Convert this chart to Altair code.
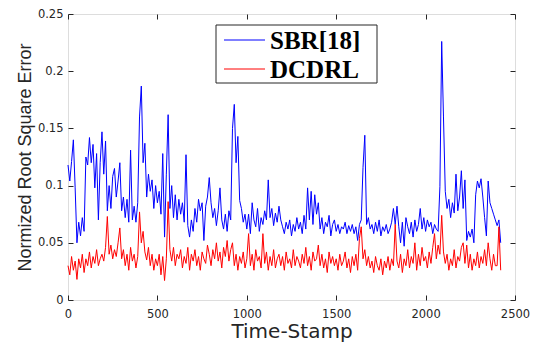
import altair as alt
import pandas as pd

# ---------------- data ----------------
sample_step = 10  # time-stamp spacing of the readings below

sbr = [
    0.118, 0.104, 0.121, 0.140, 0.098, 0.050, 0.068, 0.056, 0.072, 0.060,
    0.125, 0.118, 0.142, 0.120, 0.136, 0.098, 0.128, 0.070, 0.120, 0.147,
    0.110, 0.139, 0.078, 0.100, 0.080, 0.108, 0.115, 0.090, 0.104, 0.120,
    0.078, 0.090, 0.072, 0.088, 0.068, 0.131, 0.070, 0.082, 0.068, 0.085,
    0.160, 0.187, 0.120, 0.137, 0.090, 0.110, 0.095, 0.105, 0.080, 0.100,
    0.085, 0.095, 0.075, 0.128, 0.055, 0.110, 0.162, 0.080, 0.100, 0.072,
    0.092, 0.070, 0.088, 0.075, 0.085, 0.068, 0.127, 0.065, 0.055, 0.070,
    0.060, 0.080, 0.068, 0.088, 0.078, 0.085, 0.052, 0.082, 0.090, 0.107,
    0.085, 0.072, 0.080, 0.065, 0.078, 0.098, 0.070, 0.062, 0.075, 0.060,
    0.078, 0.070, 0.150, 0.171, 0.120, 0.143, 0.087, 0.080, 0.068, 0.075,
    0.062, 0.075, 0.058, 0.085, 0.070, 0.064, 0.080, 0.060, 0.072, 0.066,
    0.078, 0.070, 0.105, 0.072, 0.080, 0.065, 0.076, 0.068, 0.082, 0.070,
    0.064, 0.058, 0.068, 0.062, 0.070, 0.056, 0.066, 0.060, 0.072, 0.062,
    0.068, 0.058, 0.074, 0.062, 0.098, 0.070, 0.095, 0.066, 0.092, 0.075,
    0.085, 0.062, 0.072, 0.058, 0.068, 0.064, 0.074, 0.056, 0.066, 0.070,
    0.060, 0.066, 0.058, 0.064, 0.062, 0.068, 0.058, 0.065, 0.060, 0.066,
    0.058, 0.064, 0.052, 0.066, 0.070, 0.116, 0.144, 0.066, 0.072, 0.062,
    0.066, 0.058, 0.068, 0.060, 0.070, 0.056, 0.064, 0.060, 0.066, 0.058,
    0.062, 0.068, 0.080, 0.066, 0.082, 0.064, 0.050, 0.068, 0.047, 0.072,
    0.064, 0.058, 0.068, 0.055, 0.070, 0.060, 0.066, 0.080, 0.062, 0.072,
    0.060, 0.070, 0.064, 0.068, 0.058, 0.066, 0.062, 0.060, 0.099, 0.226,
    0.160, 0.095, 0.080, 0.088, 0.072, 0.085, 0.076, 0.110, 0.078, 0.090,
    0.113, 0.080, 0.105, 0.052, 0.060, 0.055, 0.062, 0.050, 0.092, 0.104,
    0.098, 0.106, 0.090, 0.072, 0.056, 0.104, 0.085, 0.080, 0.075, 0.070,
    0.065, 0.070, 0.050,
]

dcdrl = [
    0.030, 0.022, 0.038, 0.026, 0.034, 0.018, 0.036, 0.028, 0.040, 0.024,
    0.036, 0.030, 0.042, 0.028, 0.038, 0.032, 0.044, 0.030, 0.036, 0.040,
    0.034, 0.046, 0.073, 0.040, 0.048, 0.036, 0.044, 0.038, 0.050, 0.063,
    0.036, 0.044, 0.030, 0.040, 0.026, 0.046, 0.034, 0.040, 0.028, 0.038,
    0.077, 0.050, 0.060, 0.042, 0.035, 0.046, 0.030, 0.040, 0.026, 0.036,
    0.030, 0.040, 0.022, 0.038, 0.017, 0.036, 0.086, 0.044, 0.034, 0.046,
    0.030, 0.040, 0.036, 0.044, 0.028, 0.038, 0.032, 0.046, 0.026, 0.040,
    0.034, 0.044, 0.030, 0.038, 0.026, 0.042, 0.036, 0.032, 0.048, 0.040,
    0.030, 0.044, 0.036, 0.050, 0.034, 0.042, 0.028, 0.046, 0.038, 0.052,
    0.034, 0.044, 0.050, 0.030, 0.040, 0.026, 0.038, 0.032, 0.042, 0.028,
    0.036, 0.058, 0.030, 0.040, 0.026, 0.044, 0.034, 0.038, 0.028, 0.058,
    0.032, 0.042, 0.026, 0.038, 0.030, 0.044, 0.028, 0.036, 0.040, 0.030,
    0.038, 0.026, 0.042, 0.032, 0.036, 0.028, 0.044, 0.030, 0.038, 0.034,
    0.028, 0.040, 0.032, 0.046, 0.030, 0.038, 0.026, 0.042, 0.034, 0.036,
    0.048, 0.030, 0.040, 0.028, 0.036, 0.024, 0.042, 0.032, 0.038, 0.030,
    0.036, 0.026, 0.040, 0.030, 0.034, 0.042, 0.028, 0.036, 0.024, 0.038,
    0.030, 0.040, 0.026, 0.054, 0.064, 0.036, 0.044, 0.030, 0.038, 0.028,
    0.034, 0.024, 0.038, 0.030, 0.026, 0.036, 0.022, 0.034, 0.028, 0.038,
    0.026, 0.036, 0.030, 0.066, 0.034, 0.028, 0.040, 0.024, 0.036, 0.030,
    0.044, 0.028, 0.038, 0.032, 0.050, 0.026, 0.040, 0.030, 0.046, 0.034,
    0.038, 0.028, 0.042, 0.032, 0.046, 0.058, 0.036, 0.048, 0.040, 0.074,
    0.042, 0.032, 0.040, 0.026, 0.036, 0.030, 0.044, 0.028, 0.038, 0.034,
    0.046, 0.050, 0.032, 0.048, 0.028, 0.040, 0.026, 0.036, 0.030, 0.042,
    0.028, 0.038, 0.032, 0.044, 0.030, 0.050, 0.036, 0.026, 0.040, 0.030,
    0.030, 0.064, 0.026,
]

series_names = ["SBR[18]", "DCDRL"]
series_colors = ["#0000ff", "#ff0000"]
x_ticks = [0, 500, 1000, 1500, 2000, 2500]
y_ticks = [0, 0.05, 0.1, 0.15, 0.2, 0.25]
x_title = "Time-Stamp"
y_title = "Normized Root Square Error"

# ---------------- tables ----------------
stamps = list(range(0, len(sbr) * sample_step, sample_step))
blue_df = pd.DataFrame({"t": stamps, "v": sbr})
red_df = pd.DataFrame({"t": stamps[: len(dcdrl)], "v": dcdrl})

W, H = 447, 286
AX = "#262626"
xs = alt.Scale(domain=[0, 2500], nice=False, zero=False)
ys = alt.Scale(domain=[0, 0.25], nice=False)


def inward(orient, offset, values):
    return alt.Axis(orient=orient, offset=offset, values=values, labels=False,
                    title=None, tickSize=5, tickColor=AX, tickWidth=1,
                    domain=False, grid=False)


x_main = alt.Axis(orient="bottom", values=x_ticks, format="d", tickSize=0,
                  labelPadding=8, labelFlush=False, labelOverlap=False,
                  labelFont="DejaVu Sans", labelFontSize=11.5, labelColor=AX,
                  title=x_title, titleFont="DejaVu Sans", titleFontSize=20,
                  titleFontWeight="normal", titleColor=AX, titlePadding=2,
                  domain=False, grid=False)
y_main = alt.Axis(orient="left", values=y_ticks, format="~g", tickSize=0,
                  labelPadding=5, labelOverlap=False,
                  labelFont="DejaVu Sans", labelFontSize=11.5, labelColor=AX,
                  title=y_title, titleFont="Liberation Sans", titleFontSize=18,
                  titleFontWeight="normal", titleColor=AX, titlePadding=3,
                  domain=False, grid=False)

blue = alt.Chart(blue_df).mark_line(color=series_colors[0], strokeWidth=1).encode(
    x=alt.X("t:Q", scale=xs, axis=x_main),
    y=alt.Y("v:Q", scale=ys, axis=y_main),
)
red = alt.Chart(red_df).mark_line(color=series_colors[1], strokeWidth=1).encode(
    x=alt.X("t:Q", scale=xs, axis=inward("top", -H, x_ticks)),
    y=alt.Y("v:Q", scale=ys, axis=inward("right", -W, y_ticks)),
)
ghost = alt.Chart(red_df).mark_line(strokeOpacity=0, opacity=0).encode(
    x=alt.X("t:Q", scale=xs, axis=inward("bottom", -H, x_ticks)),
    y=alt.Y("v:Q", scale=ys, axis=inward("left", -W, y_ticks)),
)

# ---------------- legend (boxed, MATLAB style) ----------------
legend_box = alt.Chart(pd.DataFrame({"k": [0]})).mark_rect(
    fill="white", stroke=AX, strokeWidth=1
).encode(x=alt.value(148), x2=alt.value(309), y=alt.value(11), y2=alt.value(69))

legend_layers = [legend_box]
for i, (name, col) in enumerate(zip(series_names, series_colors)):
    row_y = 26 + 29 * i
    legend_layers.append(
        alt.Chart(pd.DataFrame({"label": [name]})).mark_rule(color=col, strokeWidth=1).encode(
            x=alt.value(156), x2=alt.value(197), y=alt.value(row_y))
    )
    legend_layers.append(
        alt.Chart(pd.DataFrame({"label": [name]})).mark_text(
            align="left", baseline="alphabetic", font="Liberation Serif",
            fontWeight="bold", fontSize=25, color="black"
        ).encode(x=alt.value(202), y=alt.value(row_y + 9), text=alt.Text("label:N"))
    )

chart = alt.layer(blue, red, ghost, *legend_layers).resolve_axis(
    x="independent", y="independent"
).properties(
    width=W, height=H,
    autosize=alt.AutoSizeParams(type="none"),
    padding={"left": 60, "top": 6, "right": 16, "bottom": 42},
).configure_view(stroke=AX, strokeWidth=1).configure(background="white")

chart.save("out.html", embed_options={"renderer": "svg", "actions": False})
